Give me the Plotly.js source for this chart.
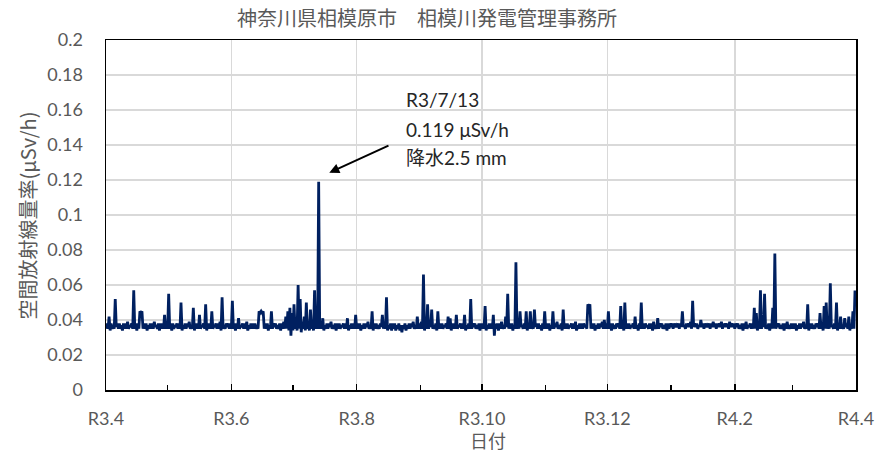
<!DOCTYPE html>
<html><head><meta charset="utf-8">
<script src="https://cdn.plot.ly/plotly-3.0.1.min.js"></script>
<style>html,body{margin:0;padding:0;background:#fff}#chart{width:877px;height:458px}</style>
</head><body><div id="chart"></div>
<script>
// Air dose rate (μSv/h): per month, daily low (00:00) and daily high (12:00)
const monthKeys = ['2021-04','2021-05','2021-06','2021-07','2021-08','2021-09','2021-10','2021-11','2021-12','2022-01','2022-02','2022-03','2022-04'];

const loApr21 = [0.035,0.035,0.034,0.035,0.035,0.036,0.035,0.035,0.034,0.035,0.035,0.035,0.036,0.035,0.035,0.034,0.035,0.044,0.035,0.035,0.034,0.035,0.035,0.035,0.036,0.035,0.034,0.035,0.035,0.035];
const hiApr21 = [0.038,0.042,0.038,0.037,0.052,0.038,0.038,0.037,0.038,0.038,0.039,0.037,0.038,0.057,0.038,0.038,0.045,0.045,0.038,0.038,0.037,0.038,0.038,0.039,0.037,0.038,0.038,0.038,0.043,0.038];
const loMay21 = [0.035,0.035,0.034,0.035,0.036,0.035,0.035,0.034,0.035,0.035,0.036,0.035,0.035,0.034,0.035,0.035,0.035,0.036,0.035,0.034,0.035,0.035,0.035,0.036,0.035,0.035,0.034,0.035,0.035,0.036,0.035];
const hiMay21 = [0.055,0.038,0.038,0.037,0.038,0.038,0.050,0.037,0.038,0.038,0.039,0.037,0.047,0.038,0.038,0.043,0.037,0.038,0.049,0.038,0.038,0.045,0.037,0.038,0.038,0.039,0.053,0.037,0.038,0.038,0.038];
const loJun21 = [0.035,0.035,0.034,0.035,0.035,0.036,0.035,0.035,0.034,0.035,0.035,0.035,0.035,0.035,0.044,0.044,0.035,0.035,0.034,0.035,0.035,0.036,0.035,0.035,0.034,0.035,0.035,0.035,0.034,0.031];
const hiJun21 = [0.051,0.038,0.038,0.041,0.037,0.038,0.038,0.039,0.037,0.038,0.038,0.038,0.037,0.045,0.045,0.045,0.038,0.038,0.037,0.045,0.038,0.038,0.037,0.038,0.038,0.039,0.042,0.045,0.047,0.044];
const loJul21 = [0.034,0.035,0.034,0.035,0.033,0.035,0.034,0.035,0.034,0.035,0.034,0.035,0.035,0.035,0.035,0.034,0.035,0.035,0.036,0.035,0.035,0.034,0.035,0.035,0.036,0.035,0.035,0.034,0.035,0.035,0.035];
const hiJul21 = [0.049,0.040,0.060,0.052,0.039,0.042,0.050,0.038,0.046,0.039,0.057,0.038,0.119,0.038,0.041,0.037,0.038,0.038,0.039,0.037,0.038,0.038,0.038,0.037,0.038,0.038,0.041,0.037,0.038,0.038,0.043];
const loAug21 = [0.035,0.035,0.034,0.035,0.035,0.036,0.035,0.035,0.034,0.035,0.035,0.035,0.036,0.035,0.035,0.034,0.035,0.034,0.035,0.034,0.035,0.034,0.033,0.035,0.034,0.035,0.035,0.036,0.035,0.035,0.035];
const hiAug21 = [0.038,0.038,0.037,0.038,0.038,0.039,0.037,0.045,0.038,0.038,0.037,0.038,0.043,0.038,0.053,0.037,0.038,0.038,0.038,0.037,0.038,0.037,0.037,0.038,0.037,0.038,0.038,0.039,0.037,0.042,0.038];
const loSep21 = [0.035,0.035,0.034,0.035,0.035,0.036,0.035,0.035,0.034,0.035,0.035,0.035,0.036,0.035,0.035,0.034,0.035,0.035,0.035,0.036,0.035,0.035,0.034,0.035,0.035,0.035,0.036,0.035,0.035,0.034];
const hiSep21 = [0.039,0.066,0.040,0.049,0.038,0.046,0.037,0.038,0.045,0.038,0.038,0.037,0.038,0.042,0.041,0.038,0.038,0.043,0.037,0.038,0.038,0.043,0.037,0.038,0.052,0.038,0.038,0.037,0.038,0.038];
const loOct21 = [0.035,0.035,0.034,0.035,0.035,0.035,0.031,0.035,0.034,0.035,0.035,0.035,0.036,0.035,0.035,0.034,0.035,0.035,0.035,0.036,0.035,0.035,0.034,0.035,0.035,0.035,0.036,0.035,0.035,0.034,0.035];
const hiOct21 = [0.038,0.048,0.037,0.038,0.038,0.043,0.038,0.038,0.038,0.039,0.037,0.042,0.055,0.038,0.038,0.037,0.073,0.038,0.045,0.037,0.038,0.045,0.038,0.045,0.037,0.046,0.038,0.038,0.037,0.038,0.045];
const loNov21 = [0.035,0.035,0.034,0.035,0.035,0.036,0.035,0.035,0.034,0.035,0.035,0.035,0.036,0.035,0.035,0.034,0.035,0.035,0.035,0.036,0.035,0.047,0.035,0.035,0.034,0.035,0.035,0.036,0.035,0.035];
const hiNov21 = [0.038,0.038,0.037,0.045,0.038,0.039,0.037,0.038,0.046,0.038,0.038,0.037,0.038,0.038,0.039,0.037,0.038,0.038,0.038,0.037,0.049,0.049,0.038,0.038,0.037,0.038,0.038,0.039,0.040,0.038];
const loDec21 = [0.035,0.035,0.034,0.035,0.035,0.036,0.035,0.035,0.034,0.035,0.035,0.035,0.036,0.035,0.035,0.034,0.035,0.035,0.035,0.036,0.035,0.035,0.034,0.035,0.035,0.035,0.036,0.035,0.035,0.034,0.035];
const hiDec21 = [0.045,0.038,0.038,0.037,0.038,0.038,0.048,0.038,0.050,0.038,0.038,0.037,0.038,0.042,0.037,0.038,0.050,0.038,0.038,0.037,0.038,0.038,0.039,0.037,0.041,0.038,0.038,0.037,0.038,0.038,0.038];
const loJan22 = [0.036,0.035,0.036,0.036,0.035,0.036,0.036,0.035,0.036,0.036,0.035,0.036,0.036,0.035,0.036,0.036,0.035,0.036,0.036,0.035,0.036,0.036,0.035,0.036,0.036,0.035,0.036,0.036,0.035,0.036,0.036];
const hiJan22 = [0.038,0.038,0.037,0.038,0.038,0.045,0.037,0.038,0.038,0.039,0.051,0.038,0.038,0.037,0.040,0.038,0.038,0.037,0.038,0.038,0.039,0.038,0.038,0.038,0.039,0.038,0.038,0.038,0.039,0.038,0.038];
const loFeb22 = [0.035,0.036,0.035,0.035,0.034,0.035,0.035,0.036,0.035,0.035,0.035,0.034,0.035,0.035,0.036,0.035,0.035,0.034,0.035,0.035,0.035,0.036,0.035,0.035,0.034,0.035,0.035,0.035];
const hiFeb22 = [0.038,0.038,0.037,0.038,0.038,0.039,0.037,0.038,0.038,0.047,0.044,0.038,0.057,0.038,0.055,0.037,0.038,0.038,0.047,0.078,0.038,0.038,0.037,0.038,0.038,0.039,0.037,0.038];
const loMar22 = [0.035,0.035,0.034,0.035,0.035,0.036,0.035,0.035,0.034,0.035,0.035,0.035,0.036,0.035,0.035,0.034,0.035,0.035,0.035,0.036,0.035,0.035,0.034,0.035,0.035,0.035,0.036,0.035,0.034,0.035,0.035];
const hiMar22 = [0.038,0.038,0.037,0.038,0.038,0.039,0.037,0.049,0.038,0.038,0.037,0.038,0.038,0.044,0.037,0.048,0.050,0.038,0.061,0.037,0.038,0.050,0.038,0.042,0.037,0.041,0.038,0.042,0.037,0.045,0.056];
const loApr22 = [0.056];
const hiApr22 = [];

const dailyLows  = [loApr21,loMay21,loJun21,loJul21,loAug21,loSep21,loOct21,loNov21,loDec21,loJan22,loFeb22,loMar22,loApr22];
const dailyHighs = [hiApr21,hiMay21,hiJun21,hiJul21,hiAug21,hiSep21,hiOct21,hiNov21,hiDec21,hiJan22,hiFeb22,hiMar22,hiApr22];

const tickDates = ['2021-04-01','2021-06-01','2021-08-01','2021-10-01','2021-12-01','2022-02-01','2022-04-01'];
const tickLabels = ['R3.4','R3.6','R3.8','R3.10','R3.12','R4.2','R4.4'];
const chartTitle = '神奈川県相模原市　相模川発電管理事務所';
const xTitle = '日付';
const yTitle = '空間放射線量率(μSv/h)';
const noteLines = ['R3/7/13','0.119 μSv/h','降水2.5 mm'];

const x = [], y = [];
monthKeys.forEach((m, i) => {
  dailyLows[i].forEach((lo, d) => {
    const day = m + '-' + String(d + 1).padStart(2, '0');
    x.push(day + ' 00:00'); y.push(lo);
    const hi = dailyHighs[i][d];
    if (hi !== undefined) { x.push(day + ' 12:00'); y.push(hi); }
  });
});

const latin = 'Lato, "Noto Sans CJK JP", sans-serif';
const cjk = '"Noto Sans CJK JP", sans-serif';

const trace = {
  type: 'scatter', mode: 'lines', x: x, y: y,
  line: {color: '#002060', width: 2.8, simplify: false},
  hoverinfo: 'skip'
};

const layout = {
  width: 877, height: 458,
  margin: {l: 106, r: 21, t: 40, b: 68},
  paper_bgcolor: '#fff', plot_bgcolor: '#fff',
  showlegend: false,
  font: {family: latin, color: '#595959', size: 18},
  xaxis: {
    type: 'date', range: ['2021-04-01', '2022-04-01'],
    tickmode: 'array', tickvals: tickDates, ticktext: tickLabels,
    ticks: 'inside', ticklen: 6, tickwidth: 1.5, tickcolor: '#000',
    showgrid: true, gridcolor: '#d9d9d9', gridwidth: 1.5,
    showline: true, linecolor: '#000', linewidth: 1.5, mirror: true,
    zeroline: false, ticklabelstandoff: 12,
    tickfont: {family: latin, size: 18, color: '#595959'},
    minor: {tickmode: 'linear', tick0: '2021-04-01', dtick: 'M1', ticks: 'inside', ticklen: 5, tickwidth: 1.5, tickcolor: '#000', showgrid: false}
  },
  yaxis: {
    range: [0, 0.2], tick0: 0, dtick: 0.02,
    showgrid: true, gridcolor: '#d9d9d9', gridwidth: 1.5,
    showline: true, linecolor: '#000', linewidth: 1.5, mirror: true,
    zeroline: false, ticks: '', ticklabelstandoff: 18,
    tickfont: {family: latin, size: 18, color: '#595959'}
  },
  annotations: [
    {xref: 'paper', yref: 'paper', x: 0.428, y: 1.063, text: chartTitle, showarrow: false,
     xanchor: 'center', yanchor: 'middle', font: {family: cjk, size: 20, color: '#595959'}},
    {xref: 'paper', yref: 'paper', x: 0.509, y: -0.143, text: xTitle, showarrow: false,
     xanchor: 'center', yanchor: 'middle', font: {family: cjk, size: 18, color: '#595959'}},
    {xref: 'paper', yref: 'paper', x: -0.1047, y: 0.5, text: yTitle, showarrow: false, textangle: -90,
     xanchor: 'center', yanchor: 'middle', font: {family: cjk, size: 20, color: '#595959'}},
    {xref: 'paper', yref: 'paper', x: 0.3973, y: 0.8286, text: noteLines[0], showarrow: false,
     xanchor: 'left', yanchor: 'middle', font: {family: latin, size: 19, color: '#262626'}},
    {xref: 'paper', yref: 'paper', x: 0.3973, y: 0.7429, text: noteLines[1], showarrow: false,
     xanchor: 'left', yanchor: 'middle', font: {family: latin, size: 19, color: '#262626'}},
    {xref: 'paper', yref: 'paper', x: 0.3973, y: 0.6629, text: noteLines[2], showarrow: false,
     xanchor: 'left', yanchor: 'middle', font: {family: latin, size: 19, color: '#262626'}},
    {xref: 'paper', yref: 'paper', x: 0.2977, y: 0.621, text: '', showarrow: true,
     ax: 60.7, ay: -27.7, arrowhead: 2, arrowsize: 1, arrowwidth: 2, arrowcolor: '#000', standoff: 0}
  ]
};

Plotly.newPlot('chart', [trace], layout, {displayModeBar: false, staticPlot: true});
</script>
</body></html>
